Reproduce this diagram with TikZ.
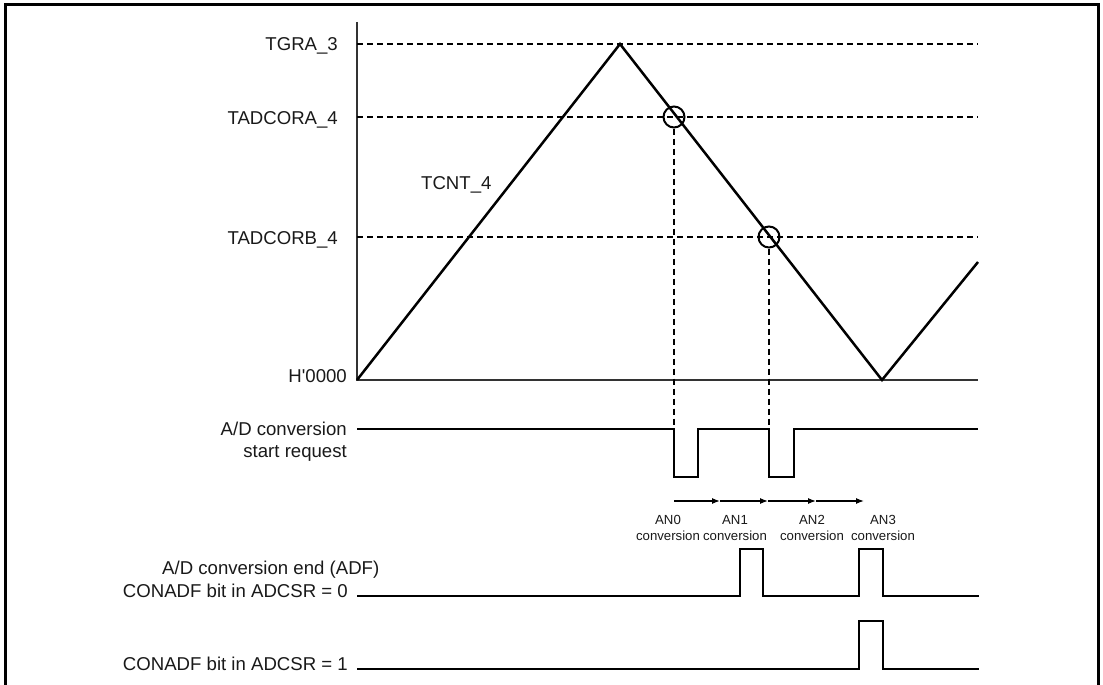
\documentclass[tikz,border=0pt]{standalone}
\usepackage{fontspec}
\setmainfont{Liberation Sans}[Ligatures=TeXOff]
\usetikzlibrary{arrows.meta,positioning}

\tikzset{
  wave/.style={line width=2.5pt, line join=miter},
  guide/.style={line width=1.2pt, dash pattern=on 6pt off 4pt},
  axisline/.style={line width=1.4pt, black!80},
  lbl/.style={font=\fontsize{18.6}{22}\selectfont, inner sep=0pt, text=black!90},
  anlbl/.style={font=\fontsize{13.2}{16.5}\selectfont, inner sep=0pt, align=center, text=black!90},
  mark circ/.style={circle, draw, line width=2pt, minimum size=21pt, inner sep=0pt},
  span/.style={line width=1.2pt, -{Latex[length=8pt,width=6pt]}},
}

\begin{document}
\begin{tikzpicture}[x=1pt,y=-1pt]
  \useasboundingbox (0,0) rectangle (1103,685);
  % frame
  \draw[line width=3pt] (5,700) -- (5,5) -- (1098,5) -- (1098,700);

  % counter axis
  \coordinate (o) at (357,380);
  \coordinate (top) at (357,22);
  \coordinate (xend) at (978,380);
  \draw[axisline] (top) -- (o) -- (xend);

  % compare levels
  \draw[guide] (357,44) -- (978,44);
  \draw[guide] (357,117) -- (978,117);
  \draw[guide] (357,237) -- (978,237);
  \node[lbl, anchor=base east] (tgra) at (338,51) {TGRA\_3};
  \node[lbl, anchor=base east] (cora) at (338,124) {TADCORA\_4};
  \node[lbl, anchor=base east] (corb) at (338,244) {TADCORB\_4};
  \node[lbl, anchor=base east] (zero) at (347,382) {H'0000};

  % TCNT_4
  \coordinate (peak) at (620,44);
  \coordinate (valley) at (882,380);
  \coordinate (tail) at (978,262);
  \draw[wave] (o) -- (peak) -- (valley) -- (tail);
  \node[lbl, anchor=base west] (tcnt) at (421,189) {TCNT\_4};

  % compare matches
  \node[mark circ] (ma) at (674,117) {};
  \node[mark circ] (mb) at (769,237) {};

  % start request
  \coordinate (req) at (357,429);
  \draw[wave] (req) -- (674,429) -- (674,477) -- (698,477) -- (698,429)
    -- (769,429) -- (769,477) -- (794,477) -- (794,429) -- (978,429);
  \node[lbl, align=right, anchor=east] (reqlbl) at (347,441.5)
    {A/D conversion\\start request};
  \draw[guide] (ma.south) -- (ma.south |- req);
  \draw[guide] (mb.south) -- (mb.south |- req);

  % conversions
  \foreach \a/\b in {674/720,720/768,768/816,816/864}
    \draw[span] (\a,501) -- (\b,501);
  \node[anlbl] (an0) at (668,528) {AN0\\conversion};
  \node[anlbl] (an1) at (735,528) {AN1\\conversion};
  \node[anlbl] (an2) at (812,528) {AN2\\conversion};
  \node[anlbl] (an3) at (883,528) {AN3\\conversion};

  % ADF, CONADF = 0
  \coordinate (adf0) at (357,596);
  \draw[wave] (adf0) -- (740,596) -- (740,549) -- (763,549) -- (763,596)
    -- (859,596) -- (859,549) -- (883,549) -- (883,596) -- (979,596);
  \node[lbl, anchor=base west] (adflbl) at (162,574) {A/D conversion end (ADF)};
  \node[lbl, anchor=base east] (con0) at (348,597) {CONADF bit in ADCSR = 0};

  % ADF, CONADF = 1
  \coordinate (adf1) at (357,669);
  \draw[wave] (adf1) -- (859,669) -- (859,621) -- (883,621) -- (883,669) -- (979,669);
  \node[lbl, anchor=base east] (con1) at (348,670) {CONADF bit in ADCSR = 1};
\end{tikzpicture}
\end{document}
